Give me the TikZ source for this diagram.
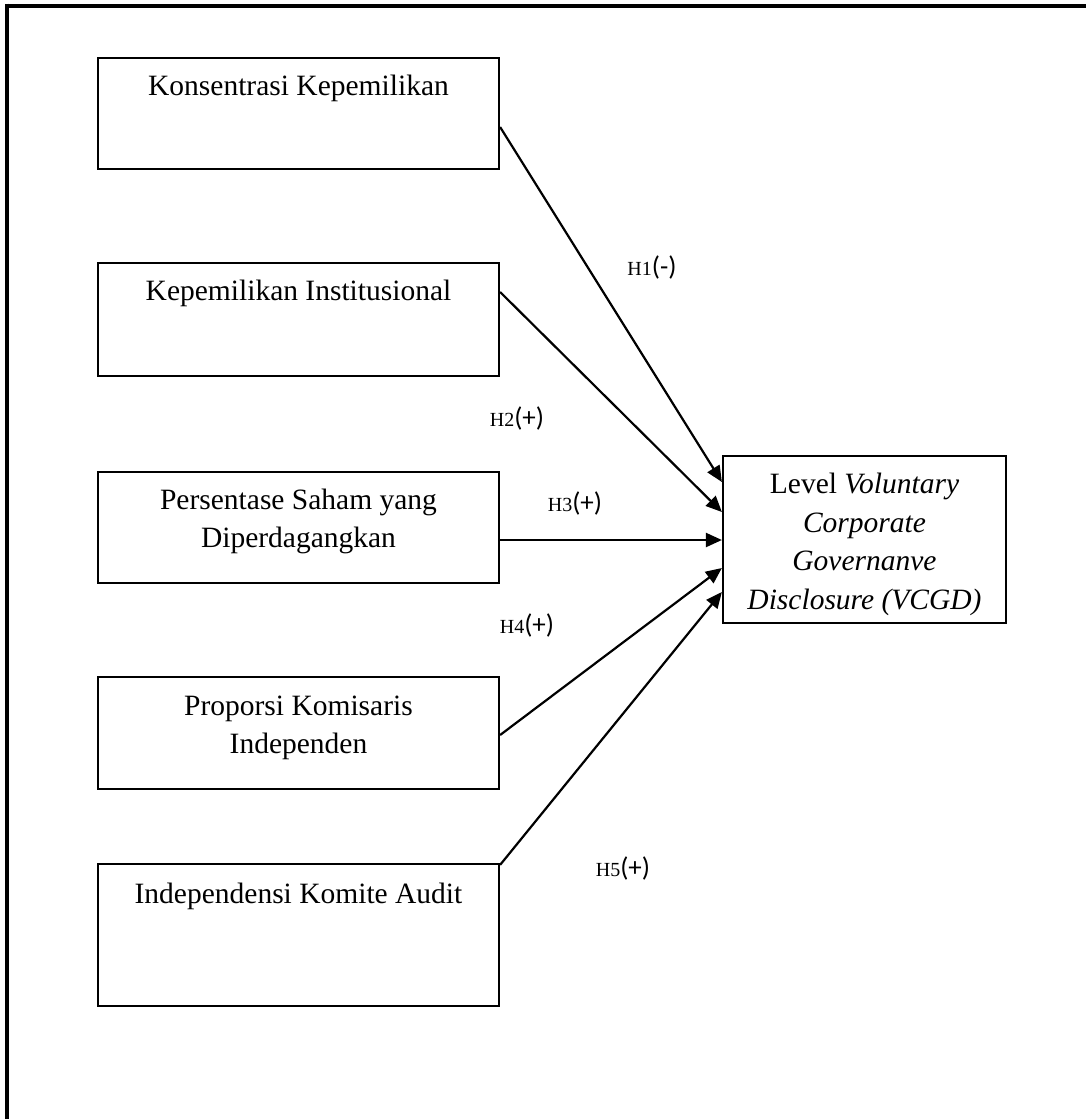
\documentclass[tikz,border=0pt]{standalone}
\usepackage{fontspec}
\setmainfont{Liberation Serif}
\newfontfamily\calib{Carlito}
\usetikzlibrary{arrows.meta}
\begin{document}
\begin{tikzpicture}[x=1pt,y=-1pt,
  varbox/.style={draw,line width=2.2pt,minimum width=401pt,inner sep=0pt},
  boxtext/.style={anchor=base,inner sep=0pt,font=\fontsize{29.5}{38}\selectfont},
  hyp/.style={inner sep=0pt},
  link/.style={line width=2.2pt,-{Triangle[length=16pt,width=14pt]}}]
\useasboundingbox (0,0) rectangle (1086,1119);
% frame (top and left edges)
\draw[line width=4pt] (5,5.5) -- (1086,5.5);
\draw[line width=4pt] (7,3.5) -- (7,1119);

% independent variables
\node[varbox,minimum height=111pt] (b1) at (298.5,113.5) {};
\node[varbox,minimum height=113pt] (b2) at (298.5,319.5) {};
\node[varbox,minimum height=111pt] (b3) at (298.5,527.5) {};
\node[varbox,minimum height=112pt] (b4) at (298.5,733) {};
\node[varbox,minimum height=142pt] (b5) at (298.5,935) {};

\node[boxtext] (l1) at (298.5,95) {Konsentrasi Kepemilikan};
\node[boxtext] (l2) at (298.5,300) {Kepemilikan Institusional};
\node[boxtext] (l3a) at (298.5,509) {Persentase Saham yang};
\node[boxtext] (l3b) at (298.5,547) {Diperdagangkan};
\node[boxtext] (l4a) at (298.5,715) {Proporsi Komisaris};
\node[boxtext] (l4b) at (298.5,753) {Independen};
\node[boxtext] (l5) at (298.5,903) {Independensi Komite Audit};

% dependent variable
\node[draw,line width=2.2pt,minimum width=283pt,minimum height=167pt,inner sep=0pt] (t) at (864.5,539.5) {};
\node[boxtext] (ta) at (864.5,493) {Level \textit{Voluntary}};
\node[boxtext] (tb) at (864.5,532) {\textit{Corporate}};
\node[boxtext] (tc) at (864.5,570.5) {\textit{Governanve}};
\node[boxtext] (td) at (864.5,609) {\textit{Disclosure (VCGD)}};

% hypotheses
\draw[link] ([yshift=-13.5pt]b1.east) -- ([yshift=57.5pt]t.west);
\draw[link] ([yshift=27.5pt]b2.east) -- ([yshift=27.5pt]t.west);
\draw[link] ([yshift=-12.5pt]b3.east) -- ([yshift=-0.5pt]t.west);
\draw[link] ([yshift=-2pt]b4.east) -- ([yshift=-28.5pt]t.west);
\draw[link] ([yshift=-2pt]b5.north east) -- ([yshift=-52.5pt]t.west);

\newcommand\hlab[2]{{\fontsize{20}{20}\selectfont H#1}{\calib\fontsize{27}{27}\selectfont(#2)}}
\node[hyp] (h1) at (652,267) {\hlab{1}{-}};
\node[hyp] (h2) at (517,418) {\hlab{2}{+}};
\node[hyp] (h3) at (575,503) {\hlab{3}{+}};
\node[hyp] (h4) at (527,625) {\hlab{4}{+}};
\node[hyp] (h5) at (623,868) {\hlab{5}{+}};
\end{tikzpicture}
\end{document}
